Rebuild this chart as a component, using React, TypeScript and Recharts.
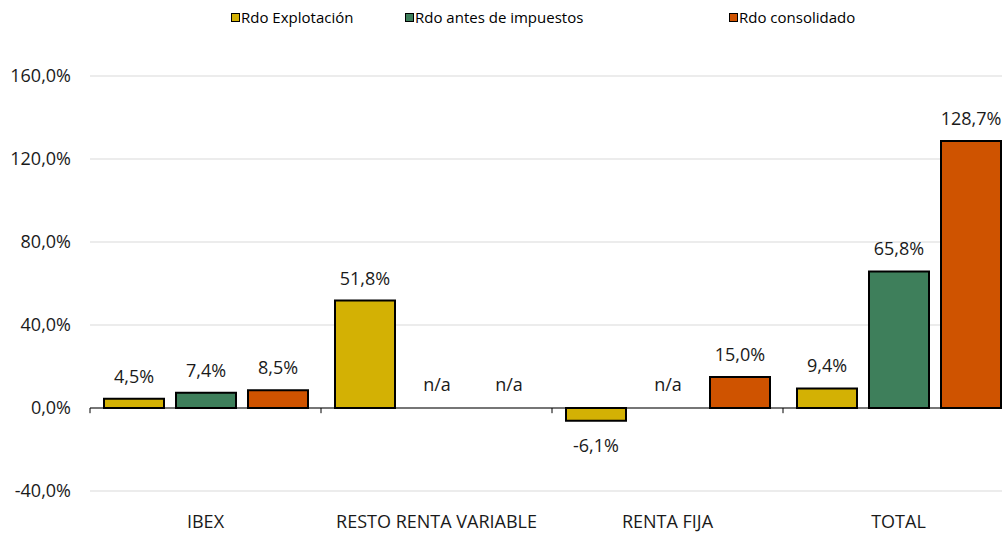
import { Bar, BarChart, CartesianGrid, LabelList, Rectangle, ReferenceLine, XAxis, YAxis } from "recharts"

const categories = ["IBEX", "RESTO RENTA VARIABLE", "RENTA FIJA", "TOTAL"]
const explotacion = [4.5, 51.8, -6.1, 9.4]
const antesImpuestos = [7.4, null, null, 65.8]
const consolidado = [8.5, null, 15.0, 128.7]
const yTicks = [-40, 0, 40, 80, 120, 160]
const seriesNames = ["Rdo Explotación", "Rdo antes de impuestos", "Rdo consolidado"]
const seriesColors = ["#d3b104", "#3e7f5b", "#cf5300"]
const boundaries = [0, 1, 2, 3, 4]

const fmt = (v: number) => v.toFixed(1).replace(".", ",") + "%"
const lbl = (v: number | null) => (v == null ? "n/a" : fmt(v))

// n/a entries become 0 so that Recharts keeps a slot (and a label) for them
const data = categories.map((name, i) => ({
  name,
  slot: i + 0.5,
  explotacion: explotacion[i] ?? 0,
  antes: antesImpuestos[i] ?? 0,
  consolidado: consolidado[i] ?? 0,
  explotacionLbl: lbl(explotacion[i]),
  antesLbl: lbl(antesImpuestos[i]),
  consolidadoLbl: lbl(consolidado[i]),
}))

const makeShape = (lblKey: string) => (props: any) => {
  if (props.payload && props.payload[lblKey] === "n/a") return <g />
  return <Rectangle {...props} />
}

const renderLabel = (props: any) => {
  const { x, y, width, height, value } = props
  const top = Math.min(y, y + height)
  const bottom = Math.max(y, y + height)
  const cx = x + width / 2
  const text = String(value)
  const ty = text.startsWith("-") ? bottom + 31 : top - 16
  return (
    <text x={cx} y={ty} textAnchor="middle" fontSize={18} fill="#1a1a1a" fontFamily="Open Sans">
      {text}
    </text>
  )
}

const legendLeft = [231, 405, 729]
const seriesKeys = ["explotacion", "antes", "consolidado"]

export default function App() {
  return (
    <div style={{ position: "absolute", left: 0, top: 0, width: 1002, height: 535, overflow: "hidden", background: "#fff" }}>
      {seriesNames.map((n, i) => (
        <div
          key={n}
          style={{
            position: "absolute",
            left: legendLeft[i],
            top: 7,
            display: "flex",
            alignItems: "center",
            fontFamily: "Open Sans",
            fontSize: 15,
            color: "#000",
          }}
        >
          <span
            style={{
              display: "inline-block",
              width: 7,
              height: 7,
              background: seriesColors[i],
              border: "1.5px solid #000",
              marginRight: 1,
            }}
          />
          {n}
        </div>
      ))}
      <BarChart
        width={1020}
        height={535}
        data={data}
        margin={{ top: 76, right: 6, bottom: 14, left: 0 }}
        barCategoryGap={14}
        barGap={12}
        style={{ fontFamily: "Open Sans" }}
      >
        <CartesianGrid vertical={false} stroke="#d9d9d9" />
        <XAxis
          dataKey="name"
          axisLine={false}
          tickLine={false}
          tickSize={0}
          tickMargin={24}
          height={30}
          tick={{ fontSize: 18, fill: "#1a1a1a" }}
        />
        <XAxis xAxisId="num" dataKey="slot" type="number" domain={[0, 4]} allowDataOverflow hide />
        <YAxis
          domain={[-40, 160]}
          ticks={yTicks}
          width={90}
          axisLine={false}
          tickLine={false}
          tickSize={0}
          tickMargin={19}
          tickFormatter={fmt}
          tick={{ fontSize: 18, fill: "#1a1a1a" }}
          interval={0}
        />
        {seriesKeys.map((k, i) => (
          <Bar
            key={k}
            dataKey={k}
            name={seriesNames[i]}
            fill={seriesColors[i]}
            stroke="#000"
            strokeWidth={2}
            minPointSize={1}
            shape={makeShape(k + "Lbl")}
            isAnimationActive={false}
          >
            <LabelList dataKey={k + "Lbl"} content={renderLabel} />
          </Bar>
        ))}
        <ReferenceLine y={0} stroke="#000" strokeWidth={1} />
        {boundaries.map((b) => (
          <ReferenceLine
            key={b}
            xAxisId="num"
            segment={[
              { x: b, y: 0 },
              { x: b, y: -2.5 },
            ]}
            stroke="#000"
            strokeWidth={1}
          />
        ))}
      </BarChart>
    </div>
  )
}
